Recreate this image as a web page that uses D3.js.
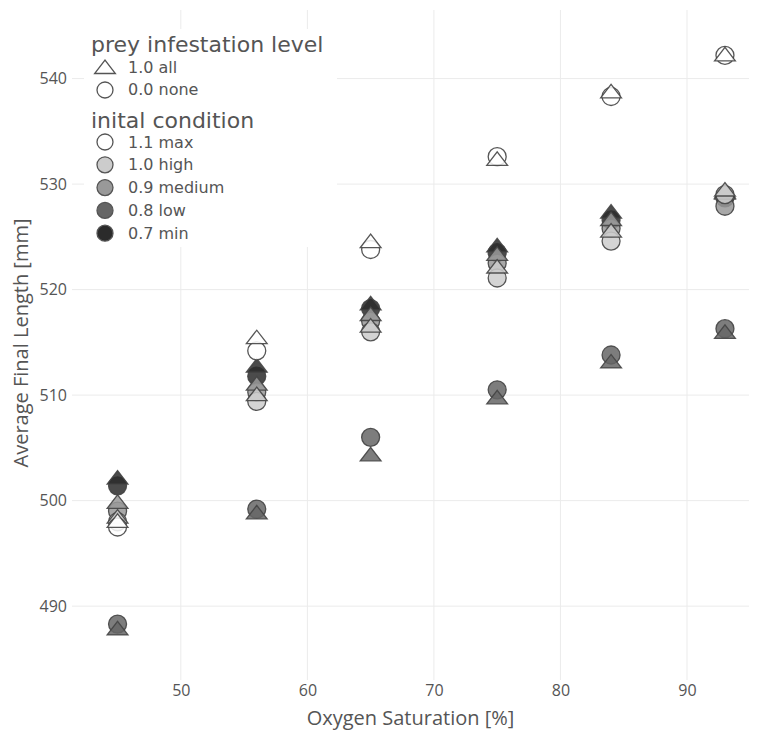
<!DOCTYPE html>
<html>
<head>
<meta charset="utf-8">
<script src="https://cdn.jsdelivr.net/npm/d3@7"></script>
<style>
  html, body { margin: 0; padding: 0; background: #fff; }
  svg { display: block; font-family: "Open Sans", "DejaVu Sans", sans-serif; }
</style>
</head>
<body>
<svg id="chart" width="759" height="734"></svg>
<script>
// Oxygen saturation levels (x) shared by every series
const oxygen = [45, 56, 65, 75, 84, 93];

// Initial condition levels, ordered from max to min
const conditions = ["1.1 max", "1.0 high", "0.9 medium", "0.8 low", "0.7 min"];
const infestations = ["1.0 all", "0.0 none"];

// Average final length [mm], prey infestation 1.0 (all)
const allMax    = [497.9, 515.3, 524.4, 532.2, 538.6, 542.1];
const allHigh   = [498.3, 509.9, 516.4, 522.0, 525.4, 529.3];
const allMedium = [499.7, 510.9, 517.5, 523.2, 526.5, 529.0];
const allLow    = [487.7, 498.7, 504.2, 509.6, 513.0, 515.8];
const allMin    = [502.0, 512.6, 518.5, 524.0, 527.2, 529.1];

// Average final length [mm], prey infestation 0.0 (none)
const noneMax    = [497.5, 514.2, 523.8, 532.6, 538.3, 542.2];
const noneHigh   = [498.0, 509.4, 516.0, 521.1, 524.6, 529.0];
const noneMedium = [499.0, 510.3, 517.0, 522.5, 525.8, 527.9];
const noneLow    = [488.3, 499.2, 506.0, 510.5, 513.8, 516.3];
const noneMin    = [501.4, 511.8, 518.2, 523.5, 526.6, 528.7];

const xTicks = [50, 60, 70, 80, 90];
const yTicks = [490, 500, 510, 520, 530, 540];

const allSeries = [allMax, allHigh, allMedium, allLow, allMin];
const noneSeries = [noneMax, noneHigh, noneMedium, noneLow, noneMin];

// Fill colour per initial condition
const fillScale = d3.scaleOrdinal()
  .domain(conditions)
  .range(["#ffffff", "#cccccc", "#999999", "#666666", "#2b2b2b"]);

const svg = d3.select("#chart");
const plot = { left: 72, right: 749, top: 10, bottom: 680 };

const x = d3.scaleLinear().domain([41.4, 94.9]).range([plot.left, plot.right]);
const y = d3.scaleLinear().domain([483.0, 546.5]).range([plot.bottom, plot.top]);

const textColor = "#555";
const legendFont = "'DejaVu Sans', Verdana, sans-serif";

// Grid lines
svg.append("g").selectAll("line.gx").data(xTicks).join("line")
  .attr("x1", d => x(d)).attr("x2", d => x(d))
  .attr("y1", plot.top).attr("y2", plot.bottom)
  .attr("stroke", "#ebebeb").attr("stroke-width", 1);
svg.append("g").selectAll("line.gy").data(yTicks).join("line")
  .attr("x1", plot.left).attr("x2", plot.right)
  .attr("y1", d => y(d)).attr("y2", d => y(d))
  .attr("stroke", "#ebebeb").attr("stroke-width", 1);

// Axes (labels only, no domain lines)
const xAxis = svg.append("g")
  .attr("transform", `translate(0,${plot.bottom})`)
  .call(d3.axisBottom(x).tickValues(xTicks).tickSize(0).tickPadding(5));
const yAxis = svg.append("g")
  .attr("transform", `translate(${plot.left},0)`)
  .call(d3.axisLeft(y).tickValues(yTicks).tickSize(0).tickPadding(5));
[xAxis, yAxis].forEach(a => {
  a.select(".domain").remove();
  a.selectAll("text")
    .attr("fill", textColor)
    .style("font-size", "16px")
    .style("font-family", "'Open Sans', sans-serif");
});

// Axis titles
svg.append("text")
  .attr("x", (plot.left + plot.right) / 2).attr("y", 725)
  .attr("text-anchor", "middle").attr("fill", textColor)
  .style("font-size", "20px")
  .text("Oxygen Saturation [%]");
svg.append("text")
  .attr("transform", `translate(28,${(plot.top + plot.bottom) / 2 - 2}) rotate(-90)`)
  .attr("text-anchor", "middle").attr("fill", textColor)
  .style("font-size", "20px")
  .text("Average Final Length [mm]");

// Marker shapes
const markerSize = 9;
const trianglePath = r => {
  const rt = r * 2 / Math.sqrt(3), r2 = r / 2;
  return `M${-rt},${r2}H${rt}L0,${-r}Z`;
};

// Points: draw min first so lighter conditions sit above darker ones
const marks = svg.append("g");
const order = [4, 3, 2, 1, 0];
order.forEach(ci => {
  const cond = conditions[ci];
  const circles = oxygen.map((o, i) => ({ o, v: noneSeries[ci][i] }));
  const tris = oxygen.map((o, i) => ({ o, v: allSeries[ci][i] }));
  marks.append("g").selectAll("circle").data(circles).join("circle")
    .attr("cx", d => x(d.o)).attr("cy", d => y(d.v))
    .attr("r", markerSize)
    .attr("fill", fillScale(cond)).attr("fill-opacity", 0.85)
    .attr("stroke", "#444").attr("stroke-width", 1.3).attr("stroke-opacity", 0.9);
  marks.append("g").selectAll("path").data(tris).join("path")
    .attr("transform", d => `translate(${x(d.o)},${y(d.v)})`)
    .attr("d", trianglePath(markerSize))
    .attr("fill", fillScale(cond)).attr("fill-opacity", 0.85)
    .attr("stroke", "#444").attr("stroke-width", 1.3).attr("stroke-opacity", 0.9);
});

// Legend
const legend = svg.append("g").style("font-family", legendFont);
legend.append("rect")
  .attr("x", 84).attr("y", 29).attr("width", 253).attr("height", 218)
  .attr("fill", "#fff");

const symX = 105, labX = 128;
legend.append("text").attr("x", 91).attr("y", 52)
  .attr("fill", textColor).style("font-size", "22px")
  .text("prey infestation level");

const infestationRows = [68, 90];
infestations.forEach((lab, i) => {
  const cy = infestationRows[i];
  if (i === 0) {
    legend.append("path")
      .attr("transform", `translate(${symX},${cy + 1})`)
      .attr("d", trianglePath(markerSize))
      .attr("fill", "#fff").attr("stroke", "#555").attr("stroke-width", 1.3);
  } else {
    legend.append("circle").attr("cx", symX).attr("cy", cy).attr("r", 8)
      .attr("fill", "#fff").attr("stroke", "#555").attr("stroke-width", 1.3);
  }
  legend.append("text").attr("x", labX).attr("y", cy + 5)
    .attr("fill", textColor).style("font-size", "16px").text(lab);
});

legend.append("text").attr("x", 91).attr("y", 128)
  .attr("fill", textColor).style("font-size", "22px")
  .text("inital condition");

conditions.forEach((lab, i) => {
  const cy = 142 + i * 22.8;
  legend.append("circle").attr("cx", symX).attr("cy", cy).attr("r", 8)
    .attr("fill", fillScale(lab)).attr("stroke", "#555").attr("stroke-width", 1.3);
  legend.append("text").attr("x", labX).attr("y", cy + 5.5)
    .attr("fill", textColor).style("font-size", "16px").text(lab);
});
</script>
</body>
</html>
